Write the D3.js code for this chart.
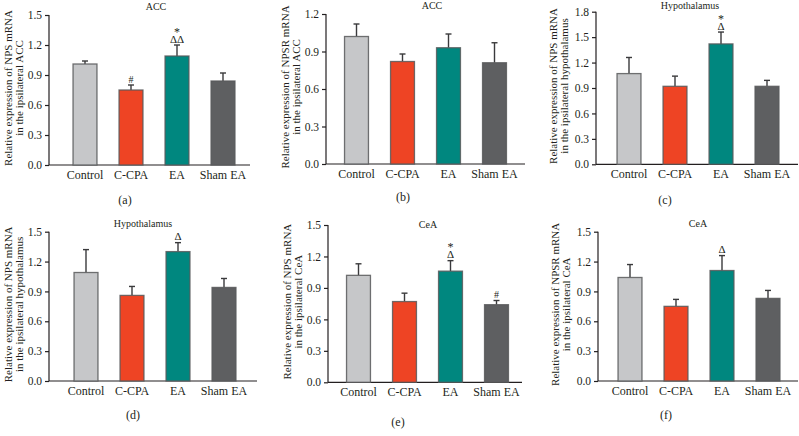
<!DOCTYPE html>
<html><head><meta charset="utf-8">
<script src="https://cdn.jsdelivr.net/npm/d3@7"></script>
<style>body{margin:0;background:#fff}svg{display:block}text{font-family:"Liberation Serif","Times New Roman",serif;fill:#231f20}</style>
</head><body><svg id="c" width="799" height="436"></svg>
<script>
const categories = ["Control", "C-CPA", "EA", "Sham EA"];
const colors = ["#c6c7c9", "#ee4424", "#00877f", "#5e5f61"];

const titles = ["ACC", "ACC", "Hypothalamus", "Hypothalamus", "CeA", "CeA"];
const subLabels = ["(a)", "(b)", "(c)", "(d)", "(e)", "(f)"];
const yLabels1 = ["Relative expression of NPS mRNA", "Relative expression of NPSR mRNA", "Relative expression of NPS mRNA",
                  "Relative expression of NPS mRNA", "Relative expression of NPS mRNA", "Relative expression of NPSR mRNA"];
const yLabels2 = ["in the ipsilateral ACC", "in the ipsilateral ACC", "in the ipsilateral hypothalamus",
                  "in the ipsilateral hypothalamus", "in the ipsilateral CeA", "in the ipsilateral CeA"];
const yMax = [1.5, 1.2, 1.8, 1.5, 1.5, 1.5];
const tickStep = [0.3, 0.3, 0.3, 0.3, 0.3, 0.3];

const meansA = [1.01, 0.75, 1.09, 0.84];
const errA   = [0.03, 0.05, 0.11, 0.08];
const meansB = [1.02, 0.82, 0.93, 0.81];
const errB   = [0.10, 0.06, 0.11, 0.16];
const meansC = [1.07, 0.92, 1.42, 0.92];
const errC   = [0.19, 0.12, 0.14, 0.07];
const meansD = [1.09, 0.86, 1.30, 0.94];
const errD   = [0.23, 0.09, 0.09, 0.09];
const meansE = [1.02, 0.77, 1.06, 0.74];
const errE   = [0.11, 0.08, 0.10, 0.04];
const meansF = [1.04, 0.75, 1.11, 0.83];
const errF   = [0.13, 0.07, 0.15, 0.08];
const allMeans = [meansA, meansB, meansC, meansD, meansE, meansF];
const allErrs = [errA, errB, errC, errD, errE, errF];

// significance marks: [category index, marks from bottom to top]
const marks = [
  [[1, ["#"]], [2, ["ΔΔ", "*"]]],
  [],
  [[2, ["Δ", "*"]]],
  [[2, ["Δ"]]],
  [[2, ["Δ", "*"]], [3, ["#"]]],
  [[2, ["Δ"]]]
];

// layout (pixel geometry per panel)
const layout = [
  {ax: 49,  top: 15,    bottom: 165,   right: 250, c0: 85,    tx: 156, ty: 10,  lx: 125, ly: 204, ylx: 12},
  {ax: 326, top: 14,    bottom: 164,   right: 525, c0: 356.5, tx: 432, ty: 9,   lx: 403, ly: 201, ylx: 289},
  {ax: 596, top: 11.7,  bottom: 164.3, right: 798, c0: 629,   tx: 690, ty: 9,   lx: 665, ly: 204, ylx: 557},
  {ax: 49,  top: 231.7, bottom: 381,   right: 257, c0: 86,    tx: 143, ty: 227, lx: 133, ly: 419, ylx: 12},
  {ax: 328, top: 225,   bottom: 382.3, right: 522, c0: 358.5, tx: 428, ty: 228, lx: 398, ly: 426, ylx: 291},
  {ax: 598, top: 231.7, bottom: 381,   right: 798, c0: 630,   tx: 698, ty: 227, lx: 666, ly: 419, ylx: 559}
];

const svg = d3.select("#c");

layout.forEach((L, p) => {
  const g = svg.append("g");
  const step = 46;
  const x = d3.scaleBand().domain(categories)
    .range([L.c0 - step / 2, L.c0 - step / 2 + step * categories.length])
    .paddingInner(0.48).paddingOuter(0.24);
  const y = d3.scaleLinear().domain([0, yMax[p]]).range([L.bottom, L.top]);
  const ticks = d3.range(0, yMax[p] + 1e-9, tickStep[p]);

  // y axis
  const yAx = g.append("g").attr("transform", `translate(${L.ax},0)`)
    .call(d3.axisLeft(y).tickValues(ticks).tickFormat(d3.format(".1f")).tickSize(4).tickPadding(3));
  yAx.select(".domain").attr("stroke", "#231f20").attr("stroke-width", 1.2).attr("d", `M0,${L.top}V${L.bottom}`);
  yAx.selectAll(".tick line").attr("stroke", "#231f20").attr("stroke-width", 1.2);
  yAx.selectAll(".tick text").style("font-size", "11.5px").style("font-family", "Liberation Serif").attr("fill", "#231f20");

  // x axis
  g.append("line").attr("x1", L.ax).attr("x2", L.right).attr("y1", L.bottom).attr("y2", L.bottom)
    .attr("stroke", "#231f20").attr("stroke-width", 1.2);
  g.selectAll(".cat").data(categories).join("text")
    .attr("x", d => x(d) + x.bandwidth() / 2).attr("y", L.bottom + 14)
    .attr("text-anchor", "middle").style("font-size", "12px").text(d => d);

  const means = allMeans[p], errs = allErrs[p];
  // error bars (upper)
  categories.forEach((c, i) => {
    const cx = x(c) + x.bandwidth() / 2;
    g.append("line").attr("x1", cx).attr("x2", cx).attr("y1", y(means[i])).attr("y2", y(means[i] + errs[i]))
      .attr("stroke", "#3a3a3c").attr("stroke-width", 1.4);
    g.append("line").attr("x1", cx - 3).attr("x2", cx + 3).attr("y1", y(means[i] + errs[i])).attr("y2", y(means[i] + errs[i]))
      .attr("stroke", "#3a3a3c").attr("stroke-width", 1.4);
  });
  // bars
  g.selectAll(".bar").data(categories).join("rect")
    .attr("x", d => x(d)).attr("width", x.bandwidth())
    .attr("y", (d, i) => y(means[i])).attr("height", (d, i) => L.bottom - y(means[i]))
    .attr("fill", (d, i) => colors[i]).attr("stroke", "#58595b").attr("stroke-opacity", 0.85).attr("stroke-width", 1.3);

  // significance marks (one text element per bar, stacked with tspans)
  marks[p].forEach(([ci, ms]) => {
    const cx = x(categories[ci]) + x.bandwidth() / 2;
    const base = y(means[ci] + errs[ci]) - 2.5;
    const t = g.append("text").attr("text-anchor", "middle");
    const top = ms.slice().reverse();
    top.forEach((m, k) => {
      const yy = base - (top.length - 1 - k) * 10 + (m === "*" ? 3 : 0);
      t.append("tspan").attr("x", cx).attr("y", yy)
        .style("font-size", m === "#" ? "10px" : (m === "*" ? "12px" : "11px")).text(m);
    });
  });

  // title
  g.append("text").attr("x", L.tx).attr("y", L.ty).attr("text-anchor", "middle").style("font-size", "10px").text(titles[p]);
  // sub label
  g.append("text").attr("x", L.lx).attr("y", L.ly).attr("text-anchor", "middle").style("font-size", "12px").text(subLabels[p]);
  // y labels
  const cy = (L.top + L.bottom) / 2 - 2;
  g.append("text").attr("transform", `translate(${L.ylx},${cy}) rotate(-90)`).attr("text-anchor", "middle")
    .style("font-size", "11px").text(yLabels1[p]);
  g.append("text").attr("transform", `translate(${L.ylx + 11},${cy}) rotate(-90)`).attr("text-anchor", "middle")
    .style("font-size", "11px").text(yLabels2[p]);
});
</script></body></html>
